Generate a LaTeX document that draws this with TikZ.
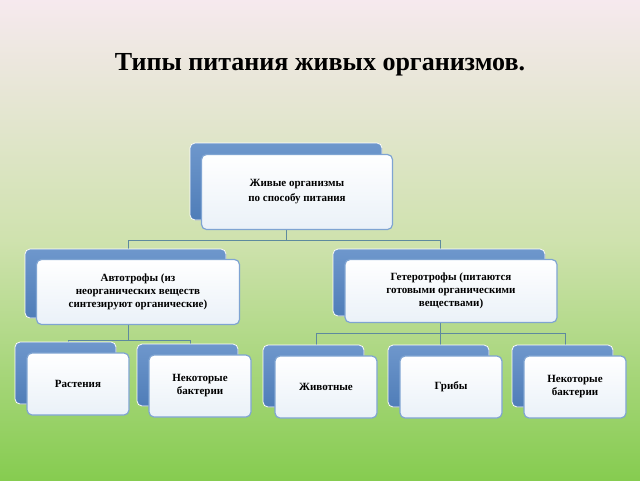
\documentclass[tikz,border=0pt]{standalone}
\usepackage{fontspec}
\setmainfont{Liberation Serif}
\begin{document}
\begin{tikzpicture}[x=1pt,y=-1pt,
  back/.style={draw=white,line width=0.8pt,rounded corners=5pt,top color=backtop,bottom color=backbot},
  front/.style={draw=bord,line width=1.2pt,rounded corners=5pt,top color=white,bottom color=frontbot,align=center,font=\bfseries\fontsize{11}{13}\selectfont},
  conn/.style={draw=lnk,line width=1pt}]
\definecolor{backtop}{HTML}{6E97CC}\definecolor{backbot}{HTML}{4F7DB8}
\definecolor{bord}{HTML}{7FA4D2}\definecolor{frontbot}{HTML}{EAF1F8}
\definecolor{lnk}{HTML}{5E8A9E}
\definecolor{bgtop}{HTML}{F6E9EE}\definecolor{bgbot}{HTML}{86CC50}
\definecolor{bgmid}{HTML}{CFE2AE}
\useasboundingbox (0,0) rectangle (640,480);
\fill[top color=bgtop,bottom color=bgbot,middle color=bgmid] (0,0) rectangle (640,480);
\node[font=\bfseries\fontsize{26}{30}\selectfont] (title) at (320,65) {Типы питания живых организмов.};
% connectors
\coordinate (t1) at (286,240);\coordinate (l1) at (128,240);\coordinate (r1) at (440,240);
\coordinate (l2) at (128,340);\coordinate (l2a) at (68,340);\coordinate (l2b) at (190,340);
\coordinate (r2) at (440,333);\coordinate (r2a) at (316,333);\coordinate (r2b) at (565,333);
\draw[conn] (286,230) -- (t1) (l1) -- (r1) (l1) -- (128,249) (r1) -- (440,249);
\draw[conn] (128,325) -- (l2) (l2a) -- (l2b) (l2a) -- (68,343) (l2b) -- (190,344);
\draw[conn] (440,323) -- (r2) (r2a) -- (r2b) (r2a) -- (316,345) (r2) -- (440,345) (r2b) -- (565,345);
% top
\fill[back] (190,143) rectangle (382,220);
\node[front,minimum width=191pt,minimum height=75pt] (top) at (297,192) {Живые организмы\\[2pt]по способу питания};
% level 2
\fill[back] (25,249) rectangle (226,318);
\node[front,minimum width=203pt,minimum height=65pt] (auto) at (138,292) {Автотрофы (из\\неорганических веществ\\синтезируют органические)};
\fill[back] (333,249) rectangle (545,316);
\node[front,minimum width=212pt,minimum height=63pt] (hetero) at (451,291) {Гетеротрофы (питаются\\готовыми органическими\\веществами)};
% level 3
\foreach \bx/\by/\n/\t in {15/342/a/Растения,137/344/b/{Некоторые\\бактерии},263/345/c/Животные,388/345/d/Грибы,512/345/e/{Некоторые\\бактерии}}{
  \fill[back] (\bx,\by) rectangle ++(101,62);
  \node[front,minimum width=102pt,minimum height=62pt] (n\n) at (\bx+63,\by+42) {\t};
}
\end{tikzpicture}
\end{document}
